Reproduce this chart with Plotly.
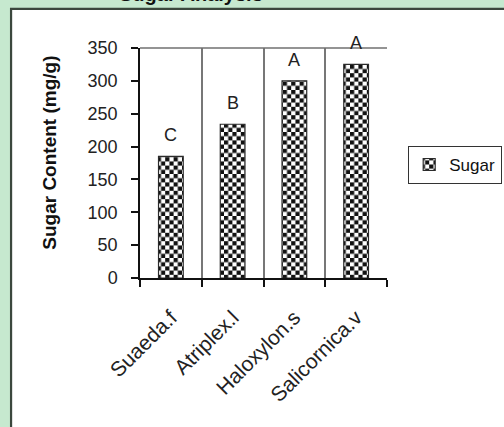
import plotly.graph_objects as go

# Sugar content per halophyte species with significance letters
species = ["Suaeda.f", "Atriplex.l", "Haloxylon.s", "Salicornica.v"]
sugar = [185, 234, 300, 325]
letters = ["C", "B", "A", "A"]
y_ticks = [0, 50, 100, 150, 200, 250, 300, 350]

FONT = "Liberation Sans, Arial, sans-serif"
CELL = 4.2  # checkerboard square size in px

fig = go.Figure()
fig.add_trace(go.Bar(
    x=species, y=sugar, name="Sugar", width=0.4,
    marker=dict(color="#ffffff", line=dict(color="#2b2b2b", width=1.2)),
    showlegend=True,
))

# significance letters above the bars
for sp, v, t in zip(species, sugar, letters):
    fig.add_annotation(x=sp, y=v, text=t, showarrow=False, yanchor="middle",
                       yshift=21, font=dict(family=FONT, size=18, color="#222"))

# y-axis title
fig.add_annotation(text="<b>Sugar Content (mg/g)</b>", textangle=-90,
                   xref="paper", yref="paper", x=-0.364, y=0.545,
                   xanchor="center", yanchor="middle",
                   showarrow=False, font=dict(family=FONT, size=19, color="#111"))

# chart title, mostly above the visible page
fig.add_annotation(text="<b>Sugar Analysis</b>", xref="paper", yref="paper",
                   x=0.206, y=1.18, xanchor="center", yanchor="bottom",
                   showarrow=False, font=dict(family=FONT, size=20, color="#111"))

# white chart frame on the green page
fig.add_shape(type="rect", xref="paper", yref="paper",
              x0=-0.522, x1=2.0, y0=-1.5, y1=1.17,
              fillcolor="#ffffff", line=dict(color="#3b473d", width=2.2),
              layer="below")
# top border of the plot area
fig.add_shape(type="line", xref="paper", yref="paper", x0=0, x1=1, y0=1, y1=1,
              line=dict(color="#707070", width=1.5))

fig.update_layout(
    width=504, height=427,
    margin=dict(l=140, r=117, t=48, b=149, autoexpand=False),
    paper_bgcolor="#c6e9cf", plot_bgcolor="#ffffff",
    font=dict(family=FONT, color="#111"),
    showlegend=True,
    legend=dict(x=1.085, y=0.575, xanchor="left", yanchor="top",
                bgcolor="#ffffff", bordercolor="#333333", borderwidth=1.2,
                font=dict(family=FONT, size=17, color="#111")),
    xaxis=dict(
        type="category", tickson="boundaries", ticks="outside", ticklen=7,
        tickcolor="#111", tickwidth=1.5,
        showgrid=True, gridcolor="#777777", gridwidth=1.5,
        showline=True, linecolor="#111", linewidth=2,
        tickangle=-45, ticklabelstandoff=17,
        tickfont=dict(family=FONT, size=21, color="#222"),
    ),
    yaxis=dict(
        range=[0, 350], tickvals=y_ticks, ticks="outside", ticklen=7,
        tickcolor="#111", tickwidth=1.5, showgrid=False, zeroline=False,
        showline=True, linecolor="#111", linewidth=1.5,
        ticklabelstandoff=10,
        tickfont=dict(family=FONT, size=18, color="#222"),
    ),
)

# checkerboard fill for the bars and the legend swatch
post = """
var gd = document.getElementById('{plot_id}');
var S = %s;
function checker() {
  var svg = gd.querySelector('svg.main-svg');
  if (!svg) return;
  var defs = svg.querySelector('defs');
  var ns = 'http://www.w3.org/2000/svg';
  if (!document.getElementById('chk')) {
    var p = document.createElementNS(ns, 'pattern');
    p.setAttribute('id', 'chk');
    p.setAttribute('patternUnits', 'userSpaceOnUse');
    p.setAttribute('width', 2 * S);
    p.setAttribute('height', 2 * S);
    var cells = [[0, 0, 2 * S, 2 * S, '#ffffff'], [0, 0, S, S, '#111111'], [S, S, S, S, '#111111']];
    cells.forEach(function (c) {
      var r = document.createElementNS(ns, 'rect');
      r.setAttribute('x', c[0]); r.setAttribute('y', c[1]);
      r.setAttribute('width', c[2]); r.setAttribute('height', c[3]);
      r.setAttribute('fill', c[4]);
      p.appendChild(r);
    });
    defs.appendChild(p);
  }
  gd.querySelectorAll('.barlayer .point path, .legend .legendpoints path').forEach(function (el) {
    el.style.fill = 'url(#chk)';
  });
}
checker();
gd.on('plotly_afterplot', checker);
""" % CELL

fig.write_html("out.html", post_script=post)
